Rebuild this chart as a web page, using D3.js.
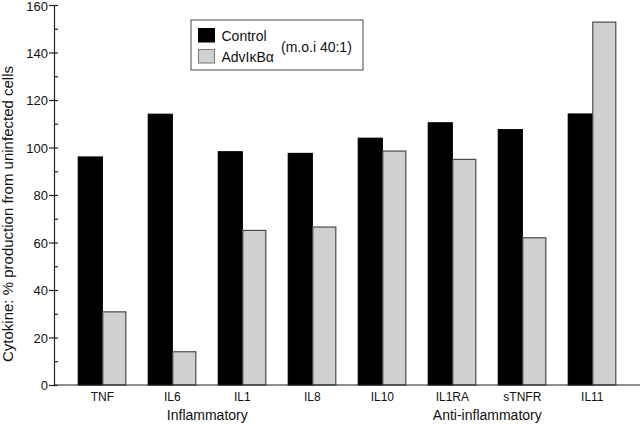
<!DOCTYPE html>
<html>
<head>
<meta charset="utf-8">
<script src="https://cdn.jsdelivr.net/npm/d3@7"></script>
<style>
html,body{margin:0;padding:0;background:#fff;}
svg{display:block;font-family:"Liberation Sans",Arial,sans-serif;}
</style>
</head>
<body>
<svg id="chart" width="640" height="424"></svg>
<script>
const categories = ["TNF","IL6","IL1","IL8","IL10","IL1RA","sTNFR","IL11"];
const seriesNames = ["Control","AdvIκBα"];
const controlValues = [96, 114, 98.2, 97.5, 103.9, 110.4, 107.5, 114.1];
const advValues = [30.8, 14, 65.1, 66.5, 98.5, 95, 62, 152.8];
const yTicks = [0,20,40,60,80,100,120,140,160];
const yMinorTicks = [10,30,50,70,90,110,130,150];
const groups = [
  {label:"Inflammatory", from:"TNF", to:"IL8"},
  {label:"Anti-inflammatory", from:"IL10", to:"IL11"}
];
const yTitle = "Cytokine: % production from uninfected cells";
const legendNote = "(m.o.i 40:1)";

const colors = {"Control":"#000000","AdvIκBα":"#d0d0d0"};
const strokes = {"Control":"#000000","AdvIκBα":"#4a4a4a"};

const svg = d3.select("#chart");
const axisX = 54, plotTop = 5, plotBottom = 385;

const x = d3.scaleBand().domain(categories).range([67.3, 627.3]).paddingInner(0.314).paddingOuter(0.157);
const xs = d3.scaleBand().domain(seriesNames).range([0, x.bandwidth()]);
const y = d3.scaleLinear().domain([0,160]).range([plotBottom, plotTop]);

const data = categories.map((c,i)=>({cat:c, vals:[
  {s:"Control", v:controlValues[i]},
  {s:"AdvIκBα", v:advValues[i]}
]}));

// bars
const g = svg.append("g");
g.selectAll("g.grp").data(data).join("g").attr("class","grp")
  .attr("transform", d=>`translate(${x(d.cat)},0)`)
  .selectAll("rect").data(d=>d.vals).join("rect")
  .attr("x", d=>xs(d.s) + (d.s==="Control"?0:0.5))
  .attr("y", d=>y(d.v))
  .attr("width", d=>xs.bandwidth() - (d.s==="Control"?0:1))
  .attr("height", d=>y(0)-y(d.v))
  .attr("fill", d=>colors[d.s])
  .attr("stroke", d=>strokes[d.s])
  .attr("stroke-width", 1.2);

// y axis
const yAxis = d3.axisLeft(y).tickValues(yTicks).tickSizeInner(5).tickSizeOuter(0).tickPadding(1);
const ya = svg.append("g").attr("transform",`translate(${axisX},0)`).call(yAxis);
ya.select(".domain").attr("stroke","#222").attr("stroke-width",1.2);
ya.selectAll(".tick line").attr("x1",4).attr("x2",-5).attr("stroke","#222").attr("stroke-width",1.2);
ya.selectAll(".tick text").attr("font-size",13).attr("fill","#111")
  .attr("font-family","Liberation Sans, Arial, sans-serif")
  .attr("dy", d=> d===160 ? "0.45em" : "0.36em");
const yMinor = d3.axisRight(y).tickValues(yMinorTicks).tickSize(4).tickFormat("");
const ym = svg.append("g").attr("transform",`translate(${axisX},0)`).call(yMinor);
ym.select(".domain").remove();
ym.selectAll(".tick line").attr("stroke","#222").attr("stroke-width",1.2);

// x axis
const xAxis = d3.axisBottom(x).tickSize(0).tickPadding(7);
const xa = svg.append("g").attr("transform",`translate(0,${plotBottom})`).call(xAxis);
xa.select(".domain").attr("d",`M${axisX},0H640`).attr("stroke","#222").attr("stroke-width",1.2);
xa.selectAll(".tick text").attr("font-size",12).attr("fill","#111").attr("font-family","Liberation Sans, Arial, sans-serif");

// group labels
svg.selectAll("text.grpl").data(groups).join("text").attr("class","grpl")
  .attr("x", d=>(x(d.from)+x(d.to)+x.bandwidth())/2)
  .attr("y", 420)
  .attr("text-anchor","middle")
  .attr("font-size",14).attr("fill","#111")
  .text(d=>d.label);

// y title
svg.append("text")
  .attr("transform","translate(13,214) rotate(-90)")
  .attr("text-anchor","middle")
  .attr("font-size",15).attr("fill","#111")
  .text(yTitle);

// legend
const lg = svg.append("g");
lg.append("rect").attr("x",191).attr("y",20).attr("width",172).attr("height",50)
  .attr("fill","#fff").attr("stroke","#666").attr("stroke-width",1.2);
const li = lg.selectAll("g.li").data(seriesNames).join("g").attr("class","li")
  .attr("transform",(d,i)=>`translate(198.5,${28.5+i*21})`);
li.append("rect").attr("width",16).attr("height",13.5)
  .attr("fill",d=>colors[d]).attr("stroke",d=>d==="Control"?"#000":"#777").attr("stroke-width",1);
li.append("text").attr("x",23).attr("y",12.3).attr("font-size",14).attr("fill","#111").text(d=>d);
lg.append("text").attr("x",281).attr("y",51.5).attr("font-size",14).attr("fill","#111").text(legendNote);
</script>
</body>
</html>
